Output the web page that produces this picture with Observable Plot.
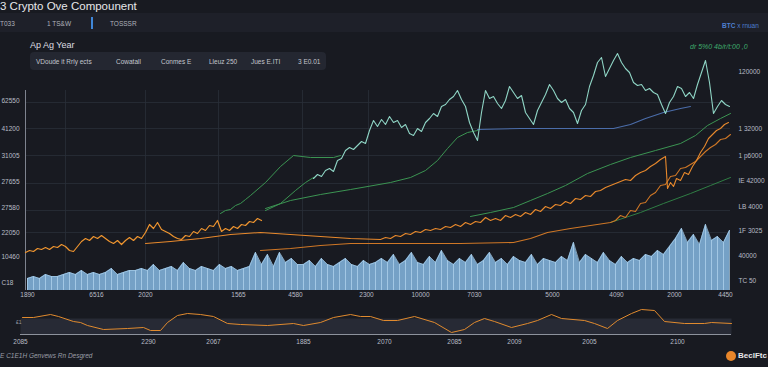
<!DOCTYPE html>
<html>
<head>
<meta charset="utf-8">
<script src="https://cdn.jsdelivr.net/npm/d3@7"></script>
<script src="https://cdn.jsdelivr.net/npm/@observablehq/plot@0.6"></script>
<style>
  html,body{margin:0;padding:0;background:#181a21;width:768px;height:367px;overflow:hidden;font-family:"Liberation Sans",Arial,sans-serif;}
  .abs{position:absolute;white-space:nowrap;}
  #band{left:0;top:13px;width:768px;height:19px;background:#1e2029;}
  #title{left:0px;top:0px;font-size:11.5px;color:#e6e7ea;}
  .tab{top:20px;font-size:6.5px;color:#aeb2bb;}
  #bar{left:91px;top:17px;width:1.5px;height:12px;background:#3f86d8;}
  #btc{left:722px;top:22px;font-size:6.5px;color:#4d7fcf;}
  #sub{left:30px;top:40px;font-size:9px;color:#dcdde0;}
  #box{left:30px;top:52px;width:296px;height:18px;background:#242731;border-radius:4px;}
  .item{top:58px;font-size:6.5px;color:#c3c6cd;}
  #green{left:690px;top:43px;font-size:7px;color:#3fae6e;font-style:italic;}
  #cap{left:0px;top:352px;font-size:6.5px;color:#9a9ea7;font-style:italic;}
  #logo{left:726px;top:351px;width:10px;height:10px;border-radius:50%;background:#e8862a;}
  #logoT{left:738px;top:351px;font-size:8px;color:#e8e8ea;font-weight:bold;}
  #main{left:0;top:40px;}
  #lower{left:0;top:300px;}
</style>
</head>
<body>
<div id="band" class="abs"></div>
<div id="title" class="abs">3 Crypto Ove Compounent</div>
<div class="abs tab" style="left:0px">T033</div>
<div class="abs tab" style="left:47px">1 TS&amp;W</div>
<div id="bar" class="abs"></div>
<div class="abs tab" style="left:110px">TOSSSR</div>
<div id="btc" class="abs"><b>BTC</b> x rnuan</div>
<div id="sub" class="abs">Ap Ag Year</div>
<div id="box" class="abs"></div>
<div class="abs item" style="left:36px">VDoude it Rrly ects</div>
<div class="abs item" style="left:116px">Cowatall</div>
<div class="abs item" style="left:161px">Conmes E</div>
<div class="abs item" style="left:209px">Lleuz 250</div>
<div class="abs item" style="left:251px">Jues E.ITI</div>
<div class="abs item" style="left:298px">3 E0.01</div>
<div id="green" class="abs">dr 5%0 4b/r/t:00 ,0</div>
<div id="main" class="abs"></div>
<div id="lower" class="abs"></div>
<div class="abs" style="left:16px;top:319px;font-size:5px;color:#9a9ea7;">£1</div>
<div id="cap" class="abs">E C1E1H Genvews Rn Desgred</div>
<div id="logo" class="abs"></div>
<div id="logoT" class="abs">BeclFtc</div>
<script>
// ---------- data ----------
// volume (start day 2, step 6)
const volStart = 2, volStep = 6;
const volume = [6,7,6,8,7,7, 8,9,8,10,8,9,8,9,11,8,9,10,
  10,11,10,13,10,11,12,10,14,11,10,12,11,10,13,11,12,10,11,12,
  19,13,18,12,19,14,16,13,
  13,15,12,16,13,12,14,16,13,12,15,13,14,16,
  14,18,13,15,19,14,13,17,14,20,15,13,16,14,18,13,15,19,14,16,13,17,15,14,18,13,16,15,14,17,
  15,24,14,18,16,14,19,15,13,17,14,16,15,18,17,20,18,
  22,26,31,24,28,23,33,25,27,24,30];

// noisy orange price line (start day 0, step 4)
const o1Start = 0, o1Step = 4;
const orange1 = [19,20,19.5,21,20.5,21.5,20.5,22,21.5,23,22,20,19.5,22,24.5,26,25,27,26,27.5,
  26,24.5,23.5,25,23,25,26.5,25,27,26,29,33,31,34,30.5,29.5,28.5,27,26,25.5,
  27.5,27,29.5,28.5,31,30,32.5,32,35,29.5,31,30,32,31,33,32.5,34.5,34,36,35];

// upper orange: smooth part, noisy part (start 360, step 5), tail
const o2SmoothDays = [120,145,175,205,235,265,295,325,355];
const o2SmoothVals = [23.5,24.5,26,28,29,28,27,26,25.5];
const o2NoisyStart = 360, o2NoisyStep = 5;
const o2Noisy = [26.5,26,27.5,27,28.5,28,29.5,29,30.5,30,31,30.5,32,31.5,33,32,34,33,34.5,34,
  36.5,35,36,35,37.5,36.5,38,37,39,38,40.5,39.5,42,41,43,42.5,44.5,43.5,46,45.5,
  47.5,47,49.5,50,51.5,52.5,53.5,54.5,55.5,55,57.5,59,60,62,63.5,65.5,67];
const o2TailDays = [642,645,648,651,655,659,663,667,671,675,679,683,687,691,695,699,703];
const o2TailVals = [51,54,52,56,55,59,58,62,65,69,72,76,78,80,81,83,84];

// lower orange: smooth part, noisy part (start 590, step 5)
const o3SmoothDays = [235,265,295,325,355,395,435,488,505,522,545,565,585];
const o3SmoothVals = [20,21,22.5,23.5,23.5,23.5,23.5,24,26,29,31,32.5,34];
const o3NoisyStart = 590, o3NoisyStep = 5;
const o3Noisy = [35,37.5,36.5,40,39.5,43.5,44,47.5,49,52.5,53,57,57.5,61,61.5,63,64.5,67,69.5,71.5,73,75.5,76,78];

// green moving averages
const gaDays = [195,200,205,210,215,220,225,240,255,268,285,308,315];
const gaVals = [38.5,40,40.5,42.5,43.5,45.5,47.5,54,62,67.5,66.5,66.5,67.5];
const gb2Days = [240,255,270,280,288];
const gb2Vals = [40,43.5,50,54,56.5];
const gbDays = [240,265,295,325,365,385,400,412,422,432,442,452];
const gbVals = [41,45,48,50.5,54,56.5,60,65,71,76.5,79,80];
const gdDays = [445,465,488,505,522,540,562,585,605,630,655,670,682,695,705];
const gdVals = [37,39,41.5,45,48.5,52.5,58.5,63,66.5,70,73.5,77.5,82.5,86,88.5];
const geDays = [585,615,638,665,685,705];
const geVals = [34,39,43.5,48.5,52.5,56.5];
// blue average
const blueDays = [452,495,535,588,605,620,638,655,665];
const blueVals = [80.5,81,81,81,83,86,89,91,92];

// teal noisy line (start day 288, step 4)
const tealStart = 288, tealStep = 4;
const teal = [56,58,57,60,61,59.5,65,66,70,71.5,70.5,72.5,74.5,73.5,80,85,82,85.5,83,87,
  84,85,81.5,83,78.5,77.5,81,79.5,84,86,88.5,87,92,93,95.5,97,100,95.5,92,84,
  79,75,89,100,96,97,93.5,91,95,102,99,96,97.5,89,86,83,90,94,98,103,
  100,96,94,95.5,91,89,83.5,90,93,102,107.5,114,116.5,107,111,115,118.5,114,111,109,
  104,102.5,103,100,101,99,98,93,88.5,94,97,102,101,97,99,96,103,109,115,104,
  88.5,92,95,93,92];

// axes / ticks
const gridY = [94,81,67.5,53.5,40,29];
const gridX = [40,120,193,277,343];
const leftTickVals = [95,81,67.5,54.5,41.5,29,17,4];
const leftTickLabels = ["62550","41200","31005","27655","27580","22050","10460","C18"];
const rightTickVals = [109.5,81,67.5,55,42,30,17.5,5];
const rightTickLabels = ["120000","1 32000","1 p6000","IE 42000","LB 4000","1F 3025","40000","TC 50"];
const xTickDays = [2,71,120,213,270,341,395,449,527,591,649,700];
const xTickLabels = ["1890","6516","2020","1565","4580","2300","10000","7030","5000","4090","2000","4450"];

// lower panel
const lowDays = [2,13,30,38,53,60,67,83,107,123,130,140,147,157,167,180,193,207,220,247,273,283,300,313,330,340,350,363,377,394,414,431,444,454,464,474,491,507,517,531,541,564,574,587,597,611,621,634,644,664,684,691,711];
const lowVals = [17,17,20,18,13,12,9,5,6,7,4,4,12,19,21,20,18,11,10,9,11,9,12,17,20,18,18,14,14,18,12,2,5,12,16,13,7,11,14,20,16,14,11,6,14,21,25,24,13,11,11,12,11];
const lowTickDays = [0,128,193,283,364,434,494,569,657];
const lowTickLabels = ["2085","2290","2067","1885","2070","2085","2009","2005","2100"];

// ---------- build tables ----------
const stepSeries = (start, step, vals) => vals.map((v, i) => ({day: start + i * step, v}));
const pairSeries = (days, vals) => days.map((d, i) => ({day: d, v: vals[i]}));

const volData = stepSeries(volStart, volStep, volume);
const o1Data = stepSeries(o1Start, o1Step, orange1);
const o2Data = [...pairSeries(o2SmoothDays, o2SmoothVals), ...stepSeries(o2NoisyStart, o2NoisyStep, o2Noisy), ...pairSeries(o2TailDays, o2TailVals)];
const o3Data = [...pairSeries(o3SmoothDays, o3SmoothVals), ...stepSeries(o3NoisyStart, o3NoisyStep, o3Noisy)];
const tealData = stepSeries(tealStart, tealStep, teal);
const leftTicks = pairSeries(leftTickVals, leftTickLabels).map(d => ({y: d.day, t: d.v}));
const rightTicks = pairSeries(rightTickVals, rightTickLabels).map(d => ({y: d.day, t: d.v}));
const xTicks = pairSeries(xTickDays, xTickLabels);
const lowData = pairSeries(lowDays, lowVals);
const lowTicks = pairSeries(lowTickDays, lowTickLabels);

const font = {background: "transparent", color: "#b9bdc6", fontSize: "6.5px", fontFamily: "Liberation Sans, Arial, sans-serif"};
const green = "#3b9452";

const main = Plot.plot({
  width: 768, height: 260,
  marginLeft: 25, marginRight: 38, marginTop: 50, marginBottom: 10,
  x: {domain: [0, 705], axis: null},
  y: {domain: [0, 100], axis: null},
  style: font,
  marks: [
    Plot.ruleY(gridY, {stroke: "#2a2e39", strokeWidth: 0.8}),
    Plot.ruleX(gridX, {stroke: "#2a2e39", strokeWidth: 0.8}),
    Plot.areaY(volData, {x: "day", y: "v", fill: "#7fb0d8", fillOpacity: 0.9}),
    Plot.ruleX(volData, {x: "day", y1: 0, y2: "v", stroke: "#b4d6ef", strokeWidth: 0.9, strokeOpacity: 0.8}),
    Plot.lineY(volData, {x: "day", y: "v", stroke: "#a6cdea", strokeWidth: 0.7}),
    Plot.ruleX([0], {stroke: "#7e838f", strokeWidth: 1}),
    Plot.line(pairSeries(gaDays, gaVals), {x: "day", y: "v", stroke: green, strokeWidth: 1}),
    Plot.line(pairSeries(gb2Days, gb2Vals), {x: "day", y: "v", stroke: green, strokeWidth: 1}),
    Plot.line(pairSeries(gbDays, gbVals), {x: "day", y: "v", stroke: green, strokeWidth: 1}),
    Plot.line(pairSeries(gdDays, gdVals), {x: "day", y: "v", stroke: green, strokeWidth: 1}),
    Plot.line(pairSeries(geDays, geVals), {x: "day", y: "v", stroke: "#2f7d44", strokeWidth: 1}),
    Plot.line(pairSeries(blueDays, blueVals), {x: "day", y: "v", stroke: "#4b6daa", strokeWidth: 1.1}),
    Plot.line(o3Data, {x: "day", y: "v", stroke: "#cf7726", strokeWidth: 1.1}),
    Plot.line(o2Data, {x: "day", y: "v", stroke: "#e8892c", strokeWidth: 1.1}),
    Plot.line(o1Data, {x: "day", y: "v", stroke: "#f0952f", strokeWidth: 1.2}),
    Plot.line(tealData, {x: "day", y: "v", stroke: "#8fd5c5", strokeWidth: 1.1}),
    Plot.text(leftTicks, {y: "y", text: "t", frameAnchor: "left", dx: -24, textAnchor: "start", fill: "#b9bdc6"}),
    Plot.text(rightTicks, {y: "y", text: "t", frameAnchor: "right", dx: 8, textAnchor: "start", fill: "#b9bdc6"}),
    Plot.text(xTicks, {x: "day", text: "v", frameAnchor: "bottom", dy: 6, fill: "#b9bdc6"})
  ]
});
document.getElementById("main").appendChild(main);

const lower = Plot.plot({
  width: 768, height: 50,
  marginLeft: 20, marginRight: 37, marginTop: 18, marginBottom: 16,
  x: {domain: [0, 711], axis: null},
  y: {domain: [0, 16], axis: null},
  style: font,
  marks: [
    Plot.frame({fill: "#272a35", stroke: "none"}),
    Plot.ruleY([0], {stroke: "#8d929c", strokeWidth: 1}),
    Plot.line(lowData, {x: "day", y: "v", stroke: "#e08a2e", strokeWidth: 1}),
    Plot.text(lowTicks, {x: "day", text: "v", frameAnchor: "bottom", dy: 9, fill: "#b9bdc6"})
  ]
});
document.getElementById("lower").appendChild(lower);
</script>
</body>
</html>
